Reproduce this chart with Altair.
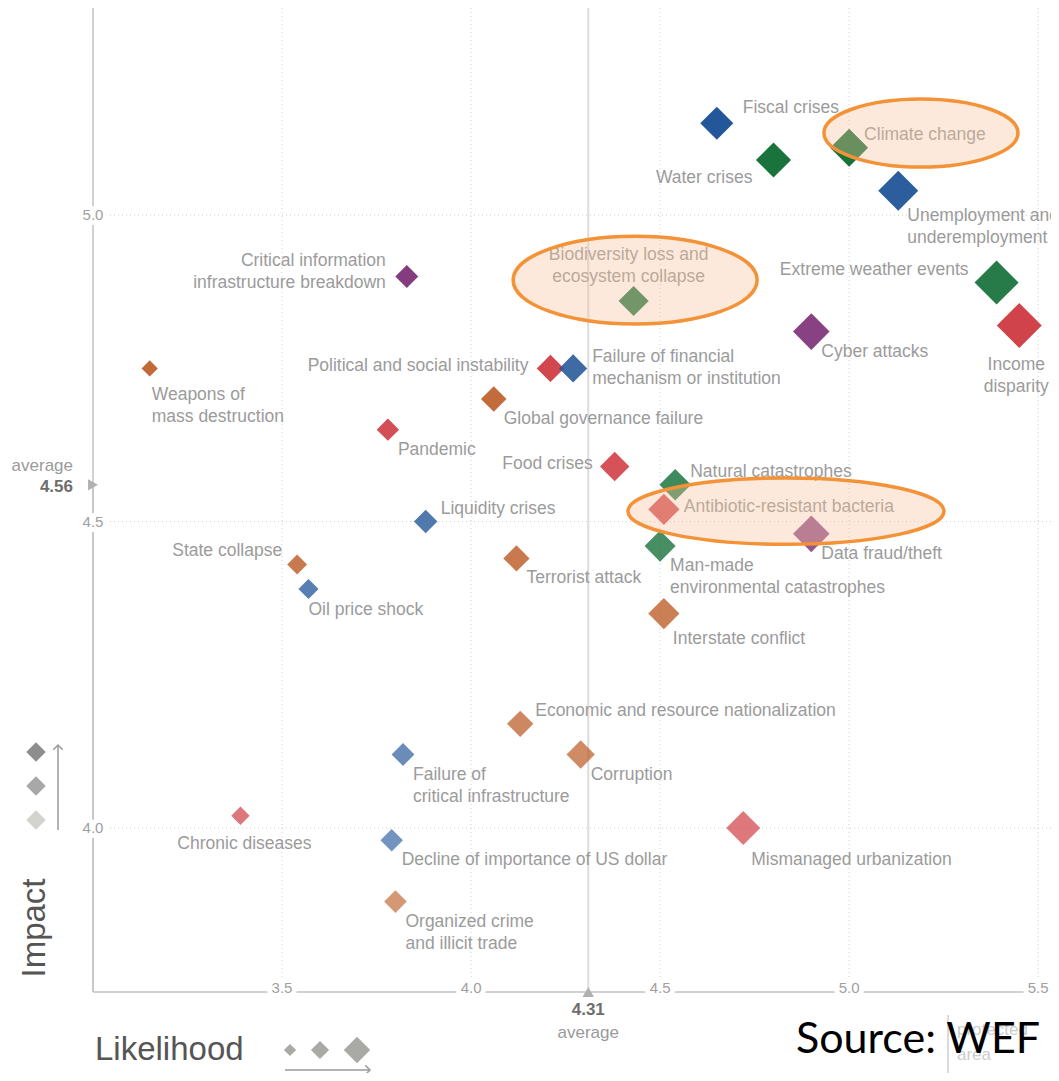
import altair as alt
import pandas as pd

# ------------------------------------------------------------------ data
risks = [
    "Fiscal crises", "Climate change", "Water crises",
    "Unemployment and\nunderemployment", "Extreme weather events",
    "Income\ndisparity", "Cyber attacks",
    "Biodiversity loss and\necosystem collapse",
    "Critical information\ninfrastructure breakdown",
    "Political and social instability",
    "Failure of financial\nmechanism or institution",
    "Weapons of\nmass destruction", "Global governance failure", "Pandemic",
    "Food crises", "Natural catastrophes", "Antibiotic-resistant bacteria",
    "Data fraud/theft", "Liquidity crises", "State collapse", "Oil price shock",
    "Terrorist attack", "Man-made\nenvironmental catastrophes",
    "Interstate conflict", "Economic and resource nationalization",
    "Corruption", "Failure of\ncritical infrastructure", "Chronic diseases",
    "Decline of importance of US dollar", "Mismanaged urbanization",
    "Organized crime\nand illicit trade",
]
likelihood = [4.65, 5.00, 4.80, 5.13, 5.39, 5.45, 4.90, 4.43, 3.83, 4.21,
              4.27, 3.15, 4.06, 3.78, 4.38, 4.54, 4.51, 4.90, 3.88, 3.54,
              3.57, 4.12, 4.50, 4.51, 4.13, 4.29, 3.82, 3.39, 3.79, 4.72,
              3.80]
impact = [5.15, 5.11, 5.09, 5.04, 4.89, 4.82, 4.81, 4.86, 4.90, 4.75,
          4.75, 4.75, 4.70, 4.65, 4.59, 4.56, 4.52, 4.48, 4.50, 4.43,
          4.39, 4.44, 4.46, 4.35, 4.17, 4.12, 4.12, 4.02, 3.98, 4.00,
          3.88]
category = [
    "Economic", "Environmental", "Environmental", "Economic", "Environmental",
    "Societal", "Technological", "Environmental", "Technological", "Societal",
    "Economic", "Geopolitical", "Geopolitical", "Societal", "Societal",
    "Environmental", "Societal", "Technological", "Economic", "Geopolitical",
    "Economic", "Geopolitical", "Environmental", "Geopolitical",
    "Geopolitical", "Geopolitical", "Economic", "Societal", "Economic",
    "Societal", "Geopolitical",
]
# label placement code relative to each diamond
label_place = [
    "ur2", "ur", "bl", "br2", "ul2", "b2", "br", "a", "l2", "l",
    "r2", "bw2", "br", "br", "l", "ur", "r", "br", "ur", "ul",
    "bw", "br", "br", "br2", "ur", "br", "br", "b", "br", "br3",
    "br",
]

categories = ["Economic", "Environmental", "Geopolitical", "Societal", "Technological"]
category_colors = ["#245799", "#157039", "#b8551c", "#cc2e36", "#7a2a74"]

x_ticks = [3.5, 4.0, 4.5, 5.0, 5.5]
y_ticks = [4.0, 4.5, 5.0]
avg_likelihood = 4.31
avg_impact = 4.56

highlight_risks = ["Climate change", "Biodiversity loss and ecosystem collapse",
                   "Antibiotic-resistant bacteria"]
highlight_x = [5.19, 4.434, 4.833]
highlight_y = [5.134, 4.894, 4.517]

# ------------------------------------------------------------------ style
X_DOMAIN = [3.0, 5.534]
Y_DOMAIN = [3.7325, 5.338]
FONT = "Liberation Sans"
LABEL_GRAY = "#9b9b9b"
AXIS_GRAY = "#c2c2c2"

PLACEMENT = {
    "ur":  dict(align="left",   baseline="bottom", dx=15,  dy=-4),
    "ur2": dict(align="left",   baseline="bottom", dx=26,  dy=-6),
    "r":   dict(align="left",   baseline="middle", dx=20,  dy=-2),
    "r2":  dict(align="left",   baseline="middle", dx=19,  dy=-11),
    "l":   dict(align="right",  baseline="middle", dx=-22, dy=-2),
    "l2":  dict(align="right",  baseline="middle", dx=-21, dy=-15),
    "ul":  dict(align="right",  baseline="bottom", dx=-15, dy=-5),
    "ul2": dict(align="right",  baseline="bottom", dx=-28, dy=-4),
    "bl":  dict(align="right",  baseline="top",    dx=-21, dy=9),
    "br":  dict(align="left",   baseline="top",    dx=10,  dy=11),
    "br2": dict(align="left",   baseline="top",    dx=9,   dy=16),
    "br3": dict(align="left",   baseline="top",    dx=8,   dy=23),
    "bw":  dict(align="left",   baseline="top",    dx=0,   dy=12),
    "bw2": dict(align="left",   baseline="top",    dx=2,   dy=18),
    "b":   dict(align="center", baseline="top",    dx=4,   dy=19),
    "b2":  dict(align="center", baseline="top",    dx=-3,  dy=31),
    "a":   dict(align="center", baseline="bottom", dx=-5,  dy=-37),
}

# half-width in px and height/width ratio of each highlight ellipse
ELLIPSE_STYLE = [(97, 0.35), (122, 0.36), (158, 0.21)]


def ellipse_path(b):
    k = 0.5523
    return (f"M -1 0 C -1 {-k*b:.4f} {-k:.4f} {-b:.4f} 0 {-b:.4f} "
            f"C {k:.4f} {-b:.4f} 1 {-k*b:.4f} 1 0 "
            f"C 1 {k*b:.4f} {k:.4f} {b:.4f} 0 {b:.4f} "
            f"C {-k:.4f} {b:.4f} -1 {k*b:.4f} -1 0 Z")


xs = alt.Scale(domain=X_DOMAIN, nice=False, zero=False)
ys = alt.Scale(domain=Y_DOMAIN, nice=False, zero=False)


def X(f):
    return alt.X(f, type="quantitative", scale=xs, axis=None)


def Y(f):
    return alt.Y(f, type="quantitative", scale=ys, axis=None)


df = pd.DataFrame({
    "risk": risks, "likelihood": likelihood, "impact": impact,
    "category": category, "place": label_place,
})

# ------------------------------------------------------------------ grid / axes
xt = pd.DataFrame({"v": x_ticks, "label": [f"{v:.1f}" for v in x_ticks],
                   "y0": Y_DOMAIN[0]})
yt = pd.DataFrame({"v": y_ticks, "label": [f"{v:.1f}" for v in y_ticks],
                   "x0": X_DOMAIN[0]})

vgrid = alt.Chart(xt).mark_rule(color="#cfcfcf", strokeDash=[1, 3], strokeWidth=1).encode(x=X("v"))
hgrid = alt.Chart(yt).mark_rule(color="#cfcfcf", strokeDash=[1, 3], strokeWidth=1).encode(y=Y("v"))

avg_df = pd.DataFrame({"ax": [avg_likelihood], "ay": [avg_impact],
                       "x0": [X_DOMAIN[0]], "y0": [Y_DOMAIN[0]],
                       "lx": [f"{avg_likelihood:.2f}"], "ly": [f"{avg_impact:.2f}"],
                       "word": ["average"]})
vavg = alt.Chart(avg_df).mark_rule(color="#dcdcdc", strokeWidth=2).encode(x=X("ax"))
havg = alt.Chart(avg_df).mark_rule(color="#dcdcdc", strokeWidth=2).encode(y=Y("ay"), x=X("x0"))

left_axis = alt.Chart(avg_df).mark_rule(color=AXIS_GRAY, strokeWidth=1.5).encode(x=X("x0"))
bottom_axis = alt.Chart(avg_df).mark_rule(color=AXIS_GRAY, strokeWidth=1.5).encode(y=Y("y0"))

tick_font = dict(font=FONT, fontSize=15, color="#a0a0a0")
xlab_halo = alt.Chart(xt).mark_text(stroke="white", strokeWidth=10, strokeJoin="round",
                                    fill="white", dy=-4, font=FONT, fontSize=15).encode(
    x=X("v"), y=Y("y0"), text="label:N")
xlab = alt.Chart(xt).mark_text(dy=-4, **tick_font).encode(x=X("v"), y=Y("y0"), text="label:N")
ylab_halo = alt.Chart(yt).mark_text(stroke="white", strokeWidth=10, strokeJoin="round",
                                    fill="white", font=FONT, fontSize=15).encode(
    x=X("x0"), y=Y("v"), text="label:N")
ylab = alt.Chart(yt).mark_text(**tick_font).encode(x=X("x0"), y=Y("v"), text="label:N")

tri_y = alt.Chart(avg_df).mark_point(shape="triangle-right", filled=True, color="#b0b0b0",
                                     size=130, opacity=1).encode(x=X("x0"), y=Y("ay"))
tri_x = alt.Chart(avg_df).mark_point(shape="triangle-up", filled=True, color="#b0b0b0",
                                     size=130, opacity=1).encode(x=X("ax"), y=Y("y0"))

avg_y_word = alt.Chart(avg_df).mark_text(align="right", dx=-20, dy=-19, font=FONT,
                                         fontSize=17, color="#9a9a9a").encode(
    x=X("x0"), y=Y("ay"), text="word:N")
avg_y_num = alt.Chart(avg_df).mark_text(align="right", dx=-20, dy=2, font=FONT, fontSize=17,
                                        fontWeight="bold", color="#6e6e6e").encode(
    x=X("x0"), y=Y("ay"), text="ly:N")
avg_x_num = alt.Chart(avg_df).mark_text(dy=18, font=FONT, fontSize=17, fontWeight="bold",
                                        color="#6e6e6e").encode(x=X("ax"), y=Y("y0"), text="lx:N")
avg_x_word = alt.Chart(avg_df).mark_text(dy=41, font=FONT, fontSize=17,
                                         color="#9a9a9a").encode(x=X("ax"), y=Y("y0"), text="word:N")

# ------------------------------------------------------------------ risks
points = alt.Chart(df).mark_point(shape="diamond", filled=True, strokeWidth=0).encode(
    x=X("likelihood"), y=Y("impact"),
    color=alt.Color("category:N", scale=alt.Scale(domain=categories, range=category_colors),
                    legend=None),
    opacity=alt.Opacity("impact:Q", scale=alt.Scale(domain=[3.85, 5.15], range=[0.6, 1.0],
                                                    clamp=True), legend=None),
    size=alt.Size("likelihood:Q", scale=alt.Scale(type="pow", exponent=4, domain=[3.1, 5.5],
                                                  range=[250, 2100]), legend=None),
)

label_layers = []
for code, p in PLACEMENT.items():
    label_layers.append(
        alt.Chart(df).transform_filter(alt.datum.place == code).mark_text(
            font=FONT, fontSize=17.5, color=LABEL_GRAY, lineBreak="\n", lineHeight=22, **p
        ).encode(x=X("likelihood"), y=Y("impact"), text="risk:N")
    )

# ------------------------------------------------------------------ highlight ellipses
ell = pd.DataFrame({
    "risk": highlight_risks, "cx": highlight_x, "cy": highlight_y,
    "shape": [ellipse_path(b) for _, b in ELLIPSE_STYLE],
    "sz": [(2 * rx) ** 2 for rx, _ in ELLIPSE_STYLE],
})
ellipses = alt.Chart(ell).mark_point(filled=True, fill="#f7c39a", fillOpacity=0.36,
                                     stroke="#f39237", strokeWidth=3.5, strokeOpacity=1,
                                     opacity=1).encode(
    x=X("cx"), y=Y("cy"),
    shape=alt.Shape("shape:N", scale=None),
    size=alt.Size("sz:Q", scale=None),
)

# ------------------------------------------------------------------ legend keys (pixel space)
imp_keys = pd.DataFrame({"px": [-57, -57, -57], "py": [744, 778, 812],
                         "c": ["#8d8d8d", "#a8a8a8", "#d3d4cf"]})
imp_diamonds = alt.Chart(imp_keys).mark_point(shape="diamond", filled=True, size=380,
                                              opacity=1).encode(
    x=alt.X("px:Q", scale=None), y=alt.Y("py:Q", scale=None),
    color=alt.Color("c:N", scale=None))
lik_keys = pd.DataFrame({"px": [197, 227, 264], "py": [1042, 1042, 1042],
                         "s": [150, 330, 700]})
lik_diamonds = alt.Chart(lik_keys).mark_point(shape="diamond", filled=True, color="#a9a9a5",
                                              opacity=1).encode(
    x=alt.X("px:Q", scale=None), y=alt.Y("py:Q", scale=None),
    size=alt.Size("s:Q", scale=None))

one = pd.DataFrame({"k": [0]})
up_arrow = alt.Chart(one).mark_rule(color="#9a9a9a", strokeWidth=1.5).encode(
    x=alt.value(-35), y=alt.value(737), y2=alt.value(822))
up_head = alt.Chart(one).mark_point(shape="M -1 1 L 0 0 L 1 1", filled=False, color="#9a9a9a",
                                    strokeWidth=1.5, size=90, opacity=1).encode(
    x=alt.value(-35), y=alt.value(737))
right_arrow = alt.Chart(one).mark_rule(color="#9a9a9a", strokeWidth=1.5).encode(
    x=alt.value(192), x2=alt.value(277), y=alt.value(1062))
right_head = alt.Chart(one).mark_point(shape="M -1 -1 L 0 0 L -1 1", filled=False,
                                       color="#9a9a9a", strokeWidth=1.5, size=90,
                                       opacity=1).encode(x=alt.value(277), y=alt.value(1062))

impact_title = alt.Chart(one).mark_text(text="Impact", angle=270, font=FONT, fontSize=33,
                                        color="#555555").encode(
    x=alt.value(-58), y=alt.value(920))
likelihood_title = alt.Chart(one).mark_text(text="Likelihood", align="left", font=FONT,
                                            fontSize=33, color="#555555").encode(
    x=alt.value(2), y=alt.value(1042))

protected_line = alt.Chart(one).mark_rule(color="#cfcfcf", strokeWidth=1.5).encode(
    x=alt.value(855), y=alt.value(1007), y2=alt.value(1065))
protected_text = alt.Chart(one).mark_text(text="protected\narea", lineBreak="\n", lineHeight=25,
                                          align="left", font=FONT, fontSize=17,
                                          color="#cccccc").encode(
    x=alt.value(864), y=alt.value(1022))
source = alt.Chart(one).mark_text(text="Source: WEF", align="left", font="Lato", fontSize=43,
                                  color="#000000").encode(x=alt.value(703), y=alt.value(1032))

chart = alt.layer(
    vgrid, hgrid, vavg, havg, left_axis, bottom_axis,
    xlab_halo, ylab_halo, xlab, ylab, tri_y, tri_x,
    avg_y_word, avg_y_num, avg_x_num, avg_x_word,
    points, *label_layers, ellipses,
    imp_diamonds, lik_diamonds, up_arrow, up_head, right_arrow, right_head,
    impact_title, likelihood_title, protected_line, protected_text, source,
).properties(
    width=958, height=984,
    autosize=alt.AutoSizeParams(type="none"),
    padding={"left": 85, "top": 0, "right": 0, "bottom": 81},
).configure_view(stroke=None)

chart.save("out.html", embed_options={"renderer": "svg", "actions": False})
